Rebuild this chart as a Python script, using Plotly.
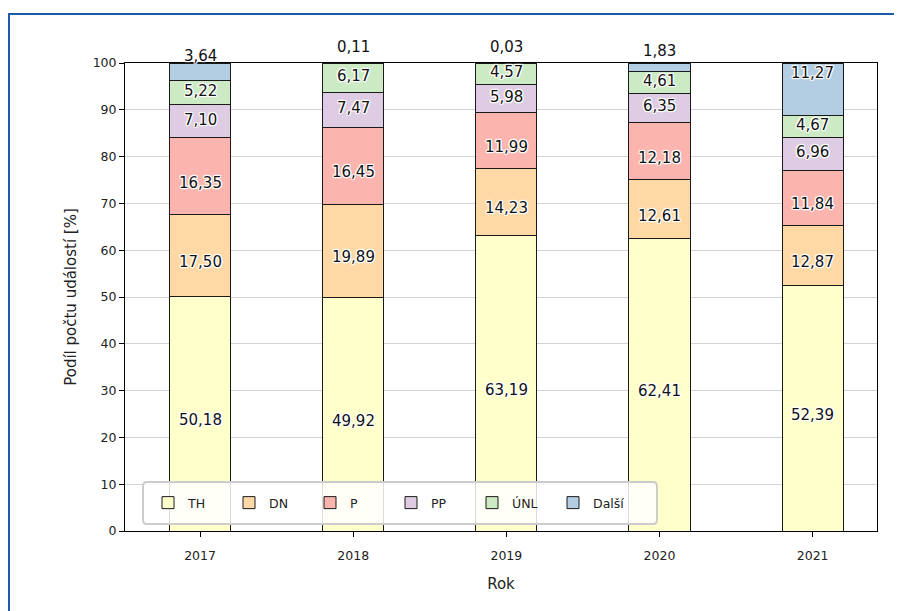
import plotly.graph_objects as go

years = ["2017", "2018", "2019", "2020", "2021"]
series_names = ["TH", "DN", "P", "PP", "ÚNL", "Další"]
th = [50.18, 49.92, 63.19, 62.41, 52.39]
dn = [17.50, 19.89, 14.23, 12.61, 12.87]
p = [16.35, 16.45, 11.99, 12.18, 11.84]
pp = [7.10, 7.47, 5.98, 6.35, 6.96]
unl = [5.22, 6.17, 4.57, 4.61, 4.67]
dalsi = [3.64, 0.11, 0.03, 1.83, 11.27]
y_ticks = list(range(0, 101, 10))

colors = ["#ffffcc", "#fed9a6", "#fbb4ae", "#decbe4", "#ccebc5", "#b3cde3"]
series = [th, dn, p, pp, unl, dalsi]

FONT = "DejaVu Sans"
fig = go.Figure()

for name, vals, col in zip(series_names, series, colors):
    fig.add_trace(go.Bar(
        x=years, y=vals, name=name, width=0.4,
        marker=dict(color=col, line=dict(color="#1a1a1a", width=1)),
        hoverinfo="skip",
    ))

# value labels (annotations anchored at segment centres; x = category index)
shadow = ("1px 1px 1px white, -1px -1px 1px white, 1px -1px 1px white, "
          "-1px 1px 1px white, 0px 1px 1px white, 0px -1px 1px white, "
          "1px 0px 1px white, -1px 0px 1px white")
annotations = []
for i, y in enumerate(years):
    bottom = 0.0
    for k, vals in enumerate(series):
        v = vals[i]
        c = bottom + v / 2
        if k == len(series) - 1:
            shift = 16
        elif v >= 10:
            shift = -6.5
        else:
            shift = 1.6
        annotations.append(dict(
            x=i, y=c, xref="x", yref="y", text=f"{v:.2f}".replace(".", ","),
            showarrow=False, xanchor="center", yanchor="middle", yshift=shift,
            font=dict(family=FONT, size=15, color="#111111", shadow=shadow),
        ))
        bottom += v

# page offset compensation (8px body margin)
W, H = 894, 603
L, R, T, B = 117, 25, 55, 80

def px2x(px):
    return (px - 125) / 752

def px2y(py):
    return (531 - py) / 468

# rounded legend frame
lx0, lx1, ly0, ly1 = px2x(143), px2x(657), px2y(524), px2y(482)
rx, ry = 4 / 752, 4 / 468
legend_path = (
    f"M{lx0+rx},{ly0} L{lx1-rx},{ly0} Q{lx1},{ly0} {lx1},{ly0+ry} "
    f"L{lx1},{ly1-ry} Q{lx1},{ly1} {lx1-rx},{ly1} L{lx0+rx},{ly1} "
    f"Q{lx0},{ly1} {lx0},{ly1-ry} L{lx0},{ly0+ry} Q{lx0},{ly0} {lx0+rx},{ly0} Z"
)

fig.update_layout(
    width=W, height=H,
    barmode="stack",
    paper_bgcolor="white", plot_bgcolor="white",
    margin=dict(l=L, r=R, t=T, b=B),
    font=dict(family=FONT, size=12.5, color="#222222"),
    showlegend=True,
    legend=dict(
        orientation="h", x=(lx0 + lx1) / 2 - 9 / 752, y=(ly0 + ly1) / 2,
        xanchor="center", yanchor="middle",
        bgcolor="rgba(0,0,0,0)", borderwidth=0,
        font=dict(family=FONT, size=12.5, color="#222222"),
        itemwidth=30, traceorder="normal",
        entrywidth=36, entrywidthmode="pixels",
    ),
    xaxis=dict(
        type="category", range=[-0.49, 4.42],
        showline=True, linecolor="black", linewidth=1, mirror=True,
        ticks="outside", ticklen=5, tickcolor="black",
        ticklabelstandoff=8,
        showgrid=False,
        title=dict(text="Rok", font=dict(size=15), standoff=16),
    ),
    yaxis=dict(
        range=[0, 100], tickvals=y_ticks,
        showline=True, linecolor="black", linewidth=1, mirror=True,
        ticks="outside", ticklen=5, tickcolor="black",
        showgrid=True, gridcolor="#d3d3d3", gridwidth=1,
        zeroline=False,
        title=dict(text="Podíl počtu událostí [%]", font=dict(size=15), standoff=12),
    ),
    annotations=annotations,
    shapes=[
        dict(
            type="rect", xref="paper", yref="paper",
            x0=px2x(9), x1=px2x(930), y0=px2y(640), y1=px2y(14),
            line=dict(color="#1a5ca8", width=2), fillcolor="rgba(0,0,0,0)",
            layer="below",
        ),
        dict(
            type="path", xref="paper", yref="paper", path=legend_path,
            line=dict(color="#cccccc", width=2), fillcolor="rgba(255,255,255,0.85)",
            layer="above",
        ),
    ],
)

fig.write_html("out.html")
